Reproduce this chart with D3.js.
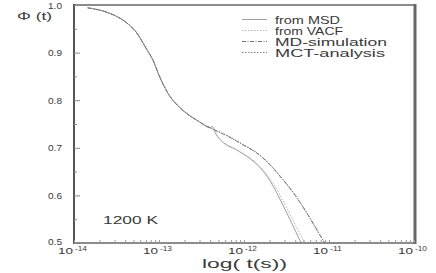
<!DOCTYPE html>
<html><head><meta charset="utf-8">
<script src="https://cdn.jsdelivr.net/npm/d3@7"></script>
<style>body{margin:0;background:#fff}svg{display:block}text{font-family:"Liberation Sans",Arial,sans-serif;fill:#3a3a3a}</style>
</head><body><svg id="c" width="436" height="273"></svg>
<script>
// ---- data ----
const commonT   = [1.45e-14, 2.5e-14, 4.2e-14, 5.5e-14, 7.0e-14, 8.5e-14, 1.02e-13, 1.3e-13, 1.7e-13, 2.2e-13, 2.9e-13, 4.0e-13];
const commonPhi = [0.994,    0.984,   0.962,   0.941,   0.910,   0.884,   0.849,    0.812,   0.787,   0.770,   0.756,   0.742];
const upperT    = [6.3e-13, 1.0e-12, 1.41e-12, 2.0e-12, 2.8e-12, 4.0e-12, 5.6e-12, 7.9e-12, 8.9e-12];
const mdPhi     = [0.725,   0.705,   0.689,    0.665,   0.635,   0.600,   0.560,   0.515,   0.500];
const mctPhi    = [0.726,   0.706,   0.690,    0.666,   0.636,   0.601,   0.561,   0.516,   0.500];
const msdT      = [4.2e-13, 4.7e-13, 5.6e-13, 7.9e-13, 1.12e-12, 1.55e-12, 2.0e-12, 2.9e-12, 3.8e-12, 4.7e-12];
const msdPhi    = [0.745,   0.728,   0.712,   0.697,   0.680,    0.658,    0.632,   0.578,   0.535,   0.500];
const vacfT     = [4.2e-13, 4.8e-13, 5.8e-13, 8.2e-13, 1.17e-12, 1.62e-12, 2.1e-12, 3.1e-12, 4.1e-12, 5.2e-12];
const vacfPhi   = [0.745,   0.727,   0.711,   0.696,   0.679,    0.657,    0.631,   0.578,   0.535,   0.500];
const seriesNames = ["from MSD", "from VACF", "MD-simulation", "MCT-analysis"];
const yTicks = [0.5, 0.6, 0.7, 0.8, 0.9, 1.0];
const xTickExps = [-14, -13, -12, -11, -10];

// ---- layout ----
const svg = d3.select("#c");
const x = d3.scaleLog().domain([1e-14, 1e-10]).range([74, 414]);
const y = d3.scaleLinear().domain([0.5, 1.0]).range([243, 5]);

function zip(ts, ps){ return ts.map((t,i)=>[t, ps[i]]); }
const S = {
  msd:  zip(commonT, commonPhi).concat(zip(msdT, msdPhi)),
  vacf: zip(commonT, commonPhi).concat(zip(vacfT, vacfPhi)),
  md:   zip(commonT, commonPhi).concat(zip(upperT, mdPhi)),
  mct:  zip(commonT, commonPhi).concat(zip(upperT, mctPhi))
};
const line = d3.line().x(d=>x(d[0])).y(d=>y(d[1])).curve(d3.curveMonotoneX);
const styles = [
  {key:"msd",  stroke:"#a0a0a0", dash:null,     w:1},
  {key:"vacf", stroke:"#b4b4b4", dash:"1.5,1.5",w:1},
  {key:"md",   stroke:"#707070", dash:"4,1.5,1,1.5", w:1},
  {key:"mct",  stroke:"#808080", dash:"1.5,1.5",w:1}
];
styles.forEach(s=>{
  svg.append("path").attr("d", line(S[s.key])).attr("fill","none")
    .attr("stroke", s.stroke).attr("stroke-width", s.w)
    .attr("stroke-dasharray", s.dash);
});

// frame
svg.append("line").attr("x1",74).attr("x2",414).attr("y1",5).attr("y2",5).attr("stroke","#666").attr("stroke-width",1.5);
svg.append("line").attr("x1",74).attr("x2",416).attr("y1",243).attr("y2",243).attr("stroke","#666").attr("stroke-width",1.5);
svg.append("line").attr("x1",74).attr("x2",74).attr("y1",4).attr("y2",244).attr("stroke","#555").attr("stroke-width",2);
svg.append("line").attr("x1",415).attr("x2",415).attr("y1",4).attr("y2",244).attr("stroke","#666").attr("stroke-width",3);

// y axis (ticks inward)
const yAxis = d3.axisRight(y).tickValues(d3.range(0.5, 1.0001, 0.05)).tickSize(4).tickFormat("");
const gy = svg.append("g").attr("transform","translate(74,0)").call(yAxis);
gy.select(".domain").remove();
gy.selectAll(".tick line").attr("stroke","#888").attr("x2",(d,i)=> i%2===0?6:3);
yTicks.forEach(v=>{
  svg.append("text").attr("x",62).attr("y",y(v)+(v===0.5?1.5:3.5)).attr("text-anchor","end")
    .attr("font-size",9.5).attr("textLength",14).attr("lengthAdjust","spacingAndGlyphs")
    .text(v.toFixed(1));
});

// x axis (ticks inward)
const minor = [];
for (let e=-14; e<-10; e++) for (let m=1; m<10; m++) minor.push(m*Math.pow(10,e));
minor.push(1e-10);
const xAxis = d3.axisTop(x).tickValues(minor).tickSize(3).tickFormat("");
const gx = svg.append("g").attr("transform","translate(0,243)").call(xAxis);
gx.select(".domain").remove();
gx.selectAll(".tick line").attr("stroke","#999");
xTickExps.forEach(e=>{
  const cx = x(Math.pow(10,e));
  const t = svg.append("text").attr("x",cx-16).attr("y",254).attr("font-size",8.5);
  t.append("tspan").attr("textLength",15).attr("lengthAdjust","spacingAndGlyphs").text("10");
  t.append("tspan").attr("dx",2).attr("dy",-3.5).attr("font-size",6.5).attr("textLength",12).attr("lengthAdjust","spacingAndGlyphs").text(String(e));
});

// labels
svg.append("text").attr("x",17).attr("y",20).attr("font-size",11.5).attr("textLength",35).attr("lengthAdjust","spacingAndGlyphs").text("Φ (t)");
svg.append("text").attr("x",202).attr("y",267.5).attr("font-size",12).attr("textLength",85).attr("lengthAdjust","spacingAndGlyphs").text("log( t(s))");
svg.append("text").attr("x",103).attr("y",224).attr("font-size",10.5).attr("textLength",55).attr("lengthAdjust","spacingAndGlyphs").text("1200 K");

// legend
const legW = [65, 68, 112, 110];
seriesNames.forEach((n,i)=>{
  const yy = 19.5 + i*11;
  const s = styles[i];
  svg.append("line").attr("x1",242).attr("x2",267).attr("y1",yy).attr("y2",yy)
    .attr("stroke",s.stroke).attr("stroke-width",1).attr("stroke-dasharray",s.dash);
  svg.append("text").attr("x",275).attr("y",yy+4).attr("font-size",10.5)
    .attr("textLength",legW[i]).attr("lengthAdjust","spacingAndGlyphs").text(n);
});
</script></body></html>
